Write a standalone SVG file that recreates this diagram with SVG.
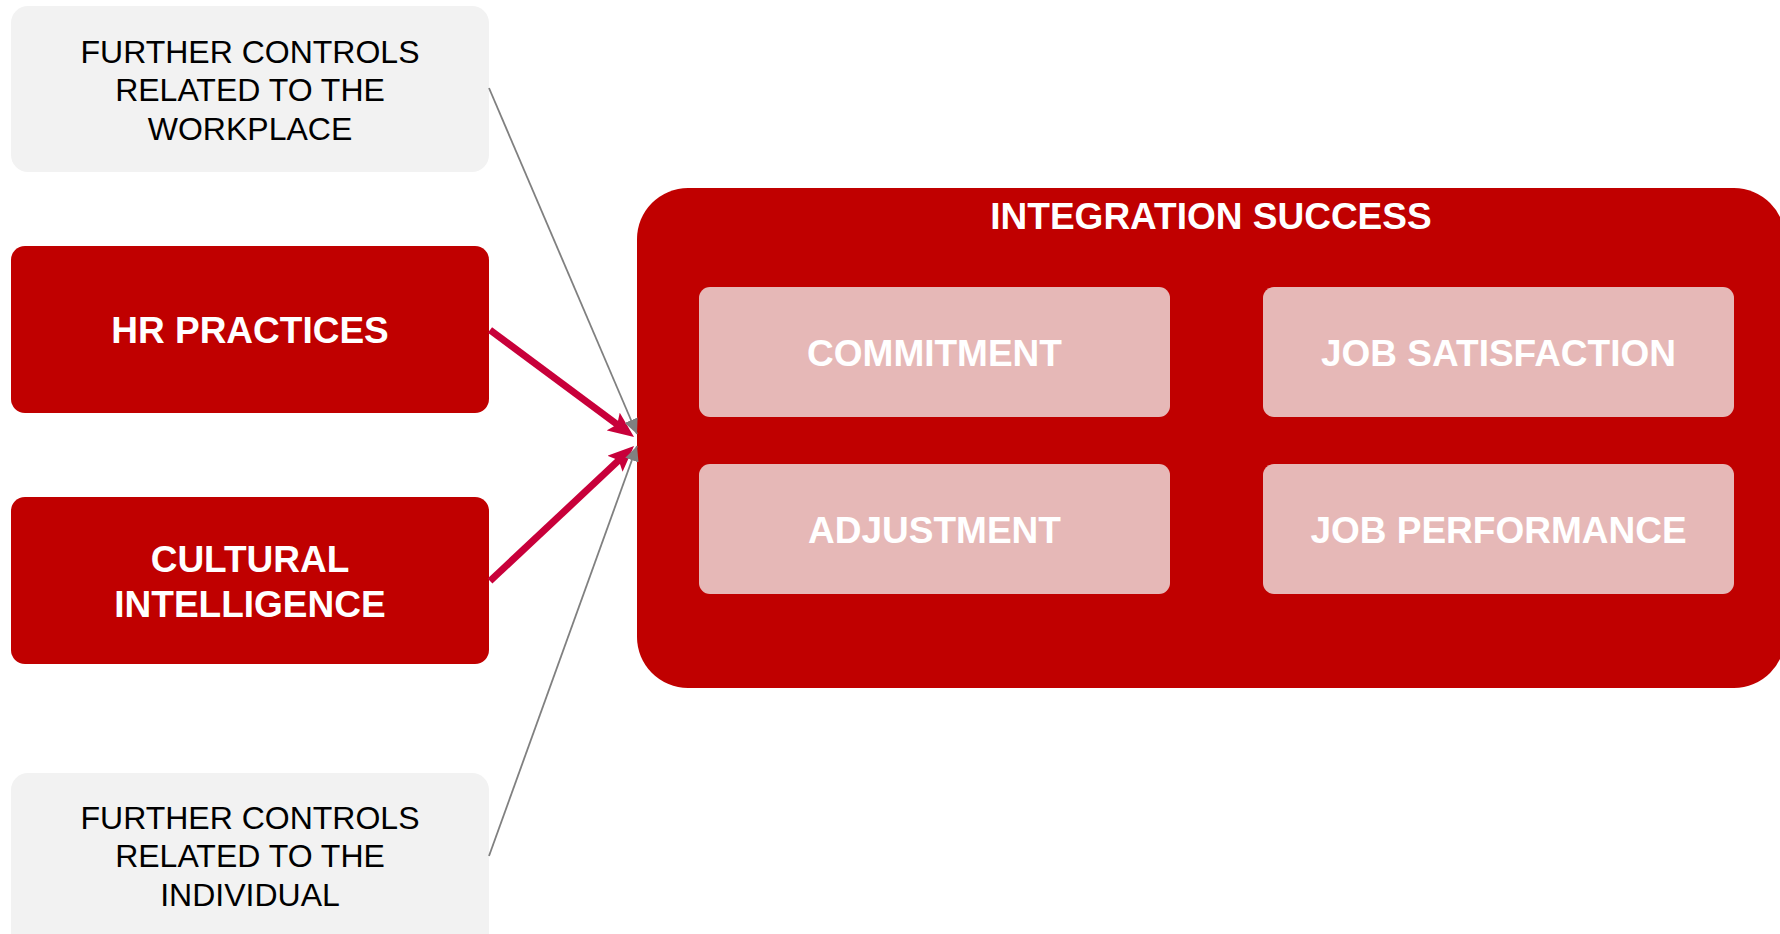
<svg xmlns="http://www.w3.org/2000/svg" width="1780" height="934" viewBox="0 0 1780 934">
<defs>
<style>
.grey{fill:#F2F2F2}
.red{fill:#C00000}
.pink{fill:#E6B8B7}
.dk{font-family:"Liberation Sans",Arial,sans-serif;font-size:32px;fill:#000;text-anchor:middle}
.wt{font-family:"Liberation Sans",Arial,sans-serif;font-size:37px;font-weight:bold;fill:#fff;text-anchor:middle}
.rl{stroke:#C8003A;stroke-width:7;fill:none}
.gl{stroke:#808080;stroke-width:1.8;fill:none}
</style>
<marker id="ra" markerUnits="userSpaceOnUse" markerWidth="26" markerHeight="22" viewBox="0 0 26 22" refX="8" refY="11" orient="auto">
<path d="M0,0 L26,11 L0,22 L5,11 z" fill="#C8003A"/>
</marker>
<marker id="ga" markerUnits="userSpaceOnUse" markerWidth="15" markerHeight="14" viewBox="0 0 15 14" refX="15" refY="7" orient="auto">
<path d="M0,0 L15,7 L0,14 z" fill="#808080"/>
</marker>
</defs>
<rect width="1780" height="934" fill="#fff"/>
<g id="controls-workplace">
<rect class="grey" x="11" y="6" width="478" height="166" rx="17"/>
<text class="dk" x="250" y="63">FURTHER CONTROLS</text>
<text class="dk" x="250" y="101">RELATED TO THE</text>
<text class="dk" x="250" y="140">WORKPLACE</text>
</g>
<g id="hr-practices">
<rect class="red" x="11" y="246" width="478" height="167" rx="14"/>
<text class="wt" x="250" y="343">HR PRACTICES</text>
</g>
<g id="cultural-intelligence">
<rect class="red" x="11" y="497" width="478" height="167" rx="14"/>
<text class="wt" x="250" y="572">CULTURAL</text>
<text class="wt" x="250" y="617">INTELLIGENCE</text>
</g>
<g id="controls-individual">
<rect class="grey" x="11" y="773" width="478" height="190" rx="17"/>
<text class="dk" x="250" y="829">FURTHER CONTROLS</text>
<text class="dk" x="250" y="867">RELATED TO THE</text>
<text class="dk" x="250" y="906">INDIVIDUAL</text>
</g>
<g id="integration-success">
<rect class="red" x="637" y="188" width="1148" height="500" rx="51"/>
<text class="wt" x="1211" y="229">INTEGRATION SUCCESS</text>
<g id="commitment">
<rect class="pink" x="699" y="287" width="471" height="130" rx="11"/>
<text class="wt" x="934.5" y="366">COMMITMENT</text>
</g>
<g id="job-satisfaction">
<rect class="pink" x="1263" y="287" width="471" height="130" rx="11"/>
<text class="wt" x="1498.5" y="366">JOB SATISFACTION</text>
</g>
<g id="adjustment">
<rect class="pink" x="699" y="464" width="471" height="130" rx="11"/>
<text class="wt" x="934.5" y="543">ADJUSTMENT</text>
</g>
<g id="job-performance">
<rect class="pink" x="1263" y="464" width="471" height="130" rx="11"/>
<text class="wt" x="1498.5" y="543">JOB PERFORMANCE</text>
</g>
</g>
<g id="connectors">
<line class="rl" x1="490" y1="330" x2="619.6" y2="426.3" marker-end="url(#ra)"/>
<line class="rl" x1="490" y1="581" x2="620.9" y2="458.3" marker-end="url(#ra)"/>
<line class="gl" x1="489" y1="88" x2="637" y2="434" marker-end="url(#ga)"/>
<line class="gl" x1="489" y1="856" x2="637" y2="446" marker-end="url(#ga)"/>
</g>
</svg>
